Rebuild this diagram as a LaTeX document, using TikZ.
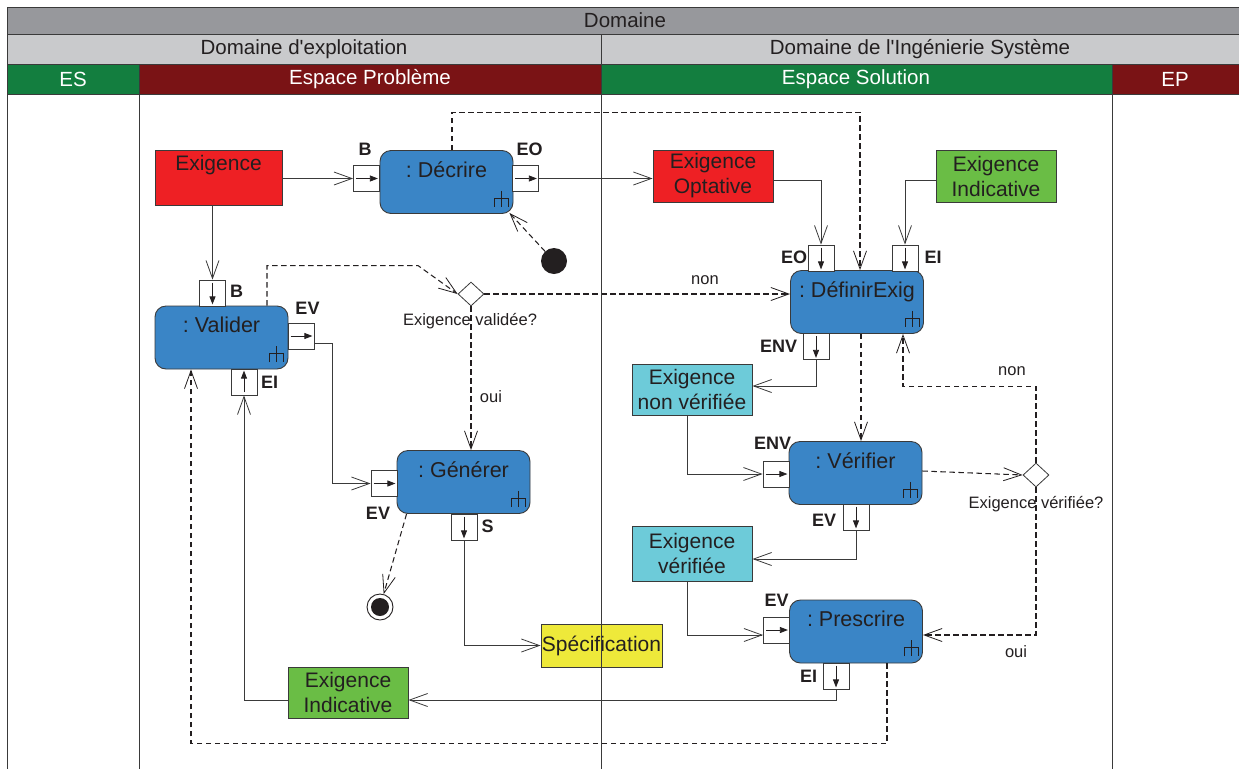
\documentclass[tikz,border=0pt]{standalone}
\usepackage{fontspec}
\setmainfont{Liberation Sans}[Ligatures=TeXOff]
\usetikzlibrary{arrows.meta,shapes.geometric,calc}

\definecolor{hdrtop}{HTML}{97989C}
\definecolor{hdrmid}{HTML}{C9CACC}
\definecolor{lanegreen}{HTML}{137E3F}
\definecolor{lanered}{HTML}{7A1315}
\definecolor{actblue}{HTML}{3A85C6}
\definecolor{reqred}{HTML}{EE2024}
\definecolor{reqgreen}{HTML}{6ABD45}
\definecolor{reqcyan}{HTML}{6DCBD9}
\definecolor{reqyellow}{HTML}{EEE93A}
\definecolor{ink}{HTML}{231F20}
\definecolor{rule}{HTML}{3A3A3A}

\frenchspacing

\tikzset{
  hdrtext/.style={font=\fontsize{20.5}{23}\selectfont, text=ink, inner sep=0},
  lanetext/.style={font=\fontsize{20.5}{23}\selectfont, text=white, inner sep=0},
  objbox/.style={draw=rule, line width=0.9pt, inner sep=0, align=center,
    font=\fontsize{21}{25}\selectfont, text=ink},
  action/.style={draw=rule, fill=actblue, line width=0.9pt, rounded corners=11pt,
    minimum width=133pt, minimum height=63pt, inner sep=0},
  acttext/.style={font=\fontsize{21.5}{25}\selectfont\frenchspacing, text=ink, inner sep=0, anchor=base},
  pinbox/.style={draw=rule, fill=white, line width=0.8pt, minimum width=26pt,
    minimum height=26pt, inner sep=0},
  pinlabel/.style={font=\fontsize{18}{21}\selectfont\bfseries, text=ink, inner sep=0, anchor=base},
  guard/.style={font=\fontsize{16.5}{20}\selectfont, text=ink, inner sep=0, anchor=base},
  pinarrow/.style={draw=ink, line width=0.8pt, -{Triangle[length=8pt,width=6pt]}},
  flow/.style={draw=rule, line width=0.8pt, -{Straight Barb[length=18pt,width=13pt,line width=0.8pt]}},
  ctrl/.style={draw=ink, line width=1.05pt, dash pattern=on 5.5pt off 3.5pt,
    -{Straight Barb[length=18pt,width=13pt,line width=0.8pt]}},
  decision/.style={diamond, draw=rule, fill=white, line width=0.8pt, minimum width=26pt,
    minimum height=24pt, inner sep=0},
  rake/.pic={
    \draw[ink, line width=0.8pt] (0,-7) -- (0,9) (-7,9) -- (-7,0) -- (7,0) -- (7,9);
  }
}

\begin{document}
\begin{tikzpicture}[x=1pt,y=-1pt]
\useasboundingbox (0,0) rectangle (1239,769);

% ---- swimlane header ----
\fill[hdrtop] (7,7) rectangle (1239,34);
\fill[hdrmid] (7,34) rectangle (1239,64);
\fill[lanegreen] (7,64) rectangle (139,94);
\fill[lanered] (139,64) rectangle (601,94);
\fill[lanegreen] (601,64) rectangle (1112,94);
\fill[lanered] (1112,64) rectangle (1239,94);
\draw[rule, line width=1pt] (7,7) -- (1239,7) (7,34) -- (1239,34) (7,64) -- (1239,64) (7,94) -- (1239,94);
\draw[rule, line width=1pt] (601,34) -- (601,64) (139,64) -- (139,94) (601,64) -- (601,94) (1112,64) -- (1112,94);
\draw[rule, line width=1pt] (7,7) -- (7,769);

\node[hdrtext] (hDom) at (625,20.5) {Domaine};
\node[hdrtext] (hExp) at (304,49.5) {Domaine d'exploitation};
\node[hdrtext] (hIS) at (920,49.5) {Domaine de l'Ingénierie Système};
\node[lanetext] (hES) at (73,79.5) {ES};
\node[lanetext] (hEPb) at (370,79.5) {Espace Problème};
\node[lanetext] (hESol) at (856,79.5) {Espace Solution};
\node[lanetext] (hEP) at (1175,79.5) {EP};

% ---- lane separators ----
\draw[rule, line width=1pt] (139,94) -- (139,769) (1112,94) -- (1112,769);

% ---- object nodes ----
\node[objbox, fill=reqred, minimum width=127pt, minimum height=55pt,
  label={[font=\fontsize{21}{25}\selectfont, text=ink, inner sep=0, anchor=base, yshift=-21pt]north:Exigence}] (exig) at (218.5,177.5) {};
\node[objbox, fill=reqred, minimum width=120pt, minimum height=52pt] (opt) at (713,176) {Exigence\\Optative};
\node[objbox, fill=reqgreen, minimum width=120pt, minimum height=52pt] (indTop) at (996,176) {Exigence\\Indicative};
\node[objbox, fill=reqcyan, minimum width=120pt, minimum height=51pt] (nonver) at (692,389.5) {Exigence\\non vérifiée};
\node[objbox, fill=reqcyan, minimum width=120pt, minimum height=55pt] (ver) at (692,553.5) {Exigence\\vérifiée};
\node[objbox, fill=reqgreen, minimum width=120pt, minimum height=51pt] (indBot) at (348,692.5) {Exigence\\Indicative};
\node[objbox, fill=reqyellow, minimum width=121pt, minimum height=43pt] (spec) at (601.5,645.5) {Spécification};

% ---- actions ----
\node[action, label={[acttext, yshift=-27pt]north:{: Décrire}}] (decrire) at (446.5,182) {};
\node[action, label={[acttext, yshift=-27pt]north:{: Valider}}] (valider) at (221.5,337.5) {};
\node[action, label={[acttext, yshift=-27pt]north:{: Générer}}] (generer) at (463.5,482) {};
\node[action, label={[acttext, yshift=-27pt]north:{: DéfinirExig}}] (definir) at (857,302) {};
\node[action, label={[acttext, yshift=-27pt]north:{: Vérifier}}] (verifier) at (855.5,473) {};
\node[action, label={[acttext, yshift=-27pt]north:{: Prescrire}}] (prescrire) at (856,631.5) {};

\foreach \a in {decrire,valider,generer,definir,verifier,prescrire}
  \pic at ([shift={(-12pt,16pt)}]\a.south east) {rake};

% ---- pins ----
\node[pinbox] (dB) at (366.5,178.5) {};
\node[pinbox] (dEO) at (525.5,178.5) {};
\node[pinbox] (vB) at (212.5,293) {};
\node[pinbox] (vEV) at (301,336) {};
\node[pinbox] (vEI) at (244,382) {};
\node[pinbox] (gEV) at (384,483.5) {};
\node[pinbox] (gS) at (464,527) {};
\node[pinbox] (deEO) at (821,258) {};
\node[pinbox] (deEI) at (905,258) {};
\node[pinbox] (deENV) at (816,346.5) {};
\node[pinbox] (veENV) at (776,474) {};
\node[pinbox] (veEV) at (856,517) {};
\node[pinbox] (pEV) at (776.5,630) {};
\node[pinbox] (pEI) at (836,676) {};

% pin direction marks
\foreach \p in {dB,dEO,vEV,gEV,veENV,pEV}
  \draw[pinarrow] ([xshift=3pt]\p.west) -- ([xshift=-2pt]\p.east);
\foreach \p in {vB,gS,deEO,deEI,deENV,veEV,pEI}
  \draw[pinarrow] ([yshift=-3pt]\p.north) -- ([yshift=2pt]\p.south);
\draw[pinarrow] ([yshift=3pt]vEI.south) -- ([yshift=-2pt]vEI.north);

% pin labels
\node[pinlabel] (ldB) at (365,155) {B};
\node[pinlabel] (ldEO) at (529.5,155) {EO};
\node[pinlabel] (lvB) at (236.5,297.5) {B};
\node[pinlabel] (lvEV) at (307.5,314) {EV};
\node[pinlabel] (lvEI) at (269.5,388) {EI};
\node[pinlabel] (lgEV) at (378,519) {EV};
\node[pinlabel] (lgS) at (487.5,532) {S};
\node[pinlabel] (ldeEO) at (794,263) {EO};
\node[pinlabel] (ldeEI) at (933,263) {EI};
\node[pinlabel] (ldeENV) at (778.5,352) {ENV};
\node[pinlabel] (lveENV) at (772.5,449.5) {ENV};
\node[pinlabel] (lveEV) at (824,526) {EV};
\node[pinlabel] (lpEV) at (776.5,606.5) {EV};
\node[pinlabel] (lpEI) at (808.5,682) {EI};

% ---- control nodes ----
\node[circle, fill=ink, minimum size=26pt, inner sep=0] (init) at (554,261) {};
\node[circle, draw=ink, line width=0.9pt, fill=white, minimum size=26pt, inner sep=0] (fin) at (380,607) {};
\fill[ink] (fin) circle (9);
\node[decision] (dv1) at (471,294) {};
\node[decision] (dv2) at (1036,475) {};
\node[guard] (gv1) at (470,325) {Exigence validée?};
\node[guard] (gv2) at (1036,508) {Exigence vérifiée?};

% ---- object flows ----
\draw[flow] (dB.west -| exig.east) -- (dB.west);
\draw[flow] (dEO.east) -- (dEO.east -| opt.west);
\draw[flow] ([yshift=-4pt]opt.east) -| (deEO.north);
\draw[flow] ([yshift=-4pt]indTop.west) -| (deEI.north);
\draw[flow] (vB.north |- exig.south) -- (vB.north);
\draw[flow] ([yshift=-7pt]vEV.east) -- ++(18,0) |- (gEV.west);
\draw[flow] (gS.south) |- (spec.west);
\draw[flow] (deENV.south) |- ([yshift=3.5pt]nonver.east);
\draw[flow] ([xshift=-5pt]nonver.south) |- (veENV.west);
\draw[flow] (veEV.south) |- ([yshift=-5.5pt]ver.east);
\draw[flow] ([xshift=-5pt]ver.south) |- ([yshift=-5pt]pEV.west);
\draw[flow] (pEI.south) |- ([yshift=-7.5pt]indBot.east);
\draw[flow] ([yshift=-7.5pt]indBot.west) -| (vEI.south);

% ---- control flows ----
\draw[ctrl] (init) -- ([shift={(-4pt,1pt)}]decrire.south east);
\draw[ctrl] ([xshift=5.5pt]decrire.north) -- ++(0,-38) -| ([xshift=3pt]definir.north);
\draw[ctrl] ([xshift=45.5pt]valider.north) -- ++(0,-40) -- ++(151,0) -- (dv1.west);
\draw[ctrl] (dv1.east) -- (dv1.east -| definir.west);
\draw[ctrl] (dv1.south) -- (dv1.south |- generer.north);
\draw[ctrl] ([xshift=10pt]generer.south west) -- (fin);
\draw[ctrl] ([xshift=4pt]definir.south) -- ([xshift=4pt]definir.south |- verifier.north);
\draw[ctrl] ([yshift=2pt]verifier.east) -- (dv2.west);
\draw[ctrl] (dv2.north) -- ++(0,-76) -| ([xshift=46pt]definir.south);
\draw[ctrl] (dv2.south) |- ([yshift=-3.5pt]prescrire.east);
\draw[ctrl] ([xshift=31pt]prescrire.south) -- ++(0,80) -| ([xshift=-30.5pt]valider.south);

% guard labels
\node[guard] (gNon1) at (705,284) {non};
\node[guard] (gOui1) at (491,402) {oui};
\node[guard] (gNon2) at (1012,375) {non};
\node[guard] (gOui2) at (1016,657) {oui};

% middle lane separator, drawn over the flows it crosses
\draw[rule, line width=1pt] (601,94) -- (601,769);
\end{tikzpicture}
\end{document}
